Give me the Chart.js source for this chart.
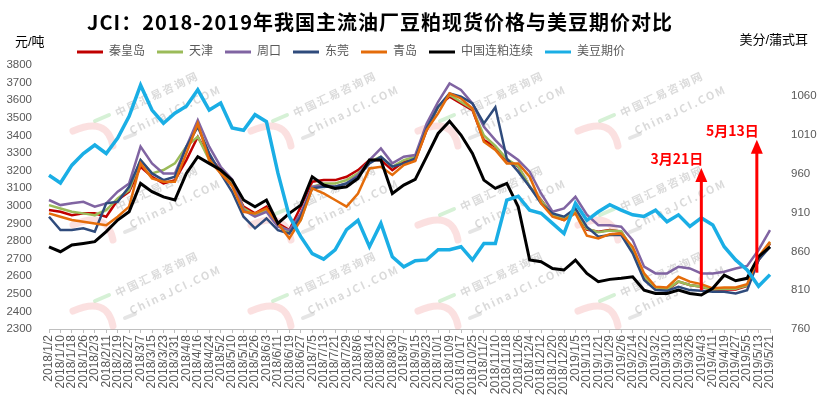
<!DOCTYPE html>
<html lang="zh">
<head>
  <meta charset="UTF-8">
  <title>豆粕现货价格与美豆期价对比</title>
  <script src="https://cdn.jsdelivr.net/npm/chart.js"></script>
  <style>
    body { margin: 0; background: #fff; }
    .chart-box { width: 820px; height: 399px; position: relative; }
  </style>
</head>
<body>
  <div class="chart-box"><canvas id="soyChart"></canvas></div>

  <script>
    // x axis categories (every 8 days)
    const dates = [
      '2018/1/2','2018/1/10','2018/1/18','2018/1/26','2018/2/3','2018/2/11','2018/2/19','2018/2/27',
      '2018/3/7','2018/3/15','2018/3/23','2018/3/31','2018/4/8','2018/4/16','2018/4/24','2018/5/2',
      '2018/5/10','2018/5/18','2018/5/26','2018/6/3','2018/6/11','2018/6/19','2018/6/27','2018/7/5',
      '2018/7/13','2018/7/21','2018/7/29','2018/8/6','2018/8/14','2018/8/22','2018/8/30','2018/9/7',
      '2018/9/15','2018/9/23','2018/10/1','2018/10/9','2018/10/17','2018/10/25','2018/11/2','2018/11/10',
      '2018/11/18','2018/11/26','2018/12/4','2018/12/12','2018/12/20','2018/12/28','2019/1/5','2019/1/13',
      '2019/1/21','2019/1/29','2019/2/6','2019/2/14','2019/2/22','2019/3/2','2019/3/10','2019/3/18',
      '2019/3/26','2019/4/3','2019/4/11','2019/4/19','2019/4/27','2019/5/5','2019/5/13','2019/5/21'
    ];

    // spot meal prices, yuan/ton
    const qinhuangdao = [2976,2966,2947,2957,2957,2938,3033,3080,3222,3165,3127,3146,3260,3392,3279,3203,
      3127,2995,2957,2995,2900,2862,2995,3137,3146,3146,3165,3203,3260,3260,3203,3250,
      3260,3430,3563,3620,3582,3544,3373,3336,3260,3222,3108,3033,2947,2919,2966,2865,
      2853,2862,2853,2749,2597,2531,2521,2569,2550,2540,2521,2525,2525,2544,2692,2786];
    const tianjin = [3004,2985,2966,2957,2947,2976,3042,3089,3260,3184,3203,3241,3336,3392,3260,3203,
      3137,2985,2947,2976,2890,2853,2919,3108,3127,3127,3146,3184,3250,3279,3222,3260,
      3279,3440,3560,3630,3590,3550,3400,3340,3265,3225,3110,3030,2950,2925,2970,2870,
      2850,2860,2855,2750,2600,2535,2525,2570,2550,2540,2525,2528,2528,2548,2700,2790];
    const zhoukou = [3033,3004,3014,3023,2995,3014,3080,3127,3336,3241,3184,3184,3336,3487,3336,3222,
      3150,2976,2938,2966,2881,2862,2957,3108,3118,3108,3127,3175,3260,3326,3241,3279,
      3288,3468,3591,3695,3658,3582,3449,3373,3307,3260,3194,3070,2966,2985,3051,2950,
      2890,2890,2881,2805,2654,2616,2616,2654,2644,2616,2616,2625,2644,2658,2749,2862];
    const dongguan = [2938,2862,2862,2872,2853,3014,3023,3108,3260,3184,3146,3165,3336,3449,3298,3184,
      3080,2938,2872,2928,2862,2843,2938,3099,3108,3108,3127,3165,3241,3279,3222,3241,
      3269,3440,3563,3639,3620,3582,3468,3560,3269,3194,3108,3014,2957,2938,2985,2880,
      2824,2834,2834,2730,2578,2521,2517,2540,2521,2517,2512,2512,2502,2521,2692,2767];
    const qingdao = [2957,2938,2919,2909,2900,2890,2938,2995,3241,3156,3137,3137,3298,3468,3260,3184,
      3113,2966,2957,2985,2900,2815,2919,3099,3070,3033,2995,3070,3212,3222,3175,3231,
      3255,3430,3525,3639,3610,3553,3364,3317,3241,3241,3165,3014,2938,2919,2957,2830,
      2815,2839,2843,2767,2616,2540,2536,2597,2569,2555,2531,2536,2536,2555,2711,2796];
    // DCE meal continuous
    const dceMeal = [2767,2739,2777,2786,2796,2853,2919,2966,3127,3080,3051,3033,3184,3279,3241,3203,
      3146,3033,2995,3033,2900,2957,3004,3165,3118,3099,3108,3156,3260,3260,3070,3118,
      3150,3279,3411,3480,3402,3298,3146,3099,3127,2995,2692,2682,2644,2635,2692,2616,
      2569,2582,2588,2597,2521,2502,2502,2521,2502,2493,2531,2606,2574,2588,2711,2767];
    // CBOT soybeans, cents/bushel (right axis)
    const cbotSoy = [958,948,971,986,997,986,1006,1034,1074,1042,1025,1038,1047,1068,1042,1051,
      1019,1016,1036,1027,961,905,879,857,850,862,888,900,866,896,853,840,
      848,849,862,862,866,849,870,870,926,931,913,909,896,883,922,900,
      911,920,913,907,905,913,898,907,892,903,894,866,849,836,815,830];

    const rightTicks = [760, 810, 860, 910, 960, 1010, 1060];

    // red arrow notes: x position (category index), from/to in yuan/ton
    const arrowIdx = [57, 61.85];
    const arrowFrom = [2520, 2620];
    const arrowTo = [3215, 3375];
    const arrowText = ['3月21日', '5月13日'];

    // faint site watermark, centre points in pixels
    const markX = [157, 335, 502, 662];
    const markY = [94, 188, 274];

    const FONT = "'Liberation Sans', 'Noto Sans CJK SC', sans-serif";
    Chart.defaults.font.family = FONT;
    Chart.defaults.color = '#595959';

    function series(label, data, color, width, axis, order) {
      return {
        label: label,
        data: data,
        borderColor: color,
        backgroundColor: color,
        borderWidth: width,
        pointRadius: 0,
        pointHoverRadius: 0,
        tension: 0,
        yAxisID: axis,
        order: order
      };
    }

    const extras = {
      id: 'extras',
      afterLayout(chart) {
        // shift legend to match original placement
        const lg = chart.legend;
        const w = lg.right - lg.left;
        lg.left = 65;
        lg.right = 65 + w;
      },
      beforeDatasetsDraw(chart) {
        const ctx = chart.ctx;
        ctx.save();
        markY.forEach(cy => markX.forEach(cx => {
          ctx.save();
          ctx.translate(cx, cy);
          ctx.rotate(-0.44);
          ctx.fillStyle = 'rgba(150,150,150,0.35)';
          ctx.font = "bold 11px 'Noto Sans CJK SC'";
          ctx.letterSpacing = '2px';
          ctx.textAlign = 'center';
          ctx.textBaseline = 'middle';
          ctx.fillText('中国汇易咨询网', 0, 0);
          ctx.fillText('ChinaJCI.COM', 10, 22);
          ctx.restore();
          // logo strokes
          ctx.lineCap = 'round';
          ctx.strokeStyle = 'rgba(120,210,120,0.3)';
          ctx.lineWidth = 4;
          ctx.beginPath(); ctx.moveTo(cx - 62, cy + 27); ctx.lineTo(cx - 48, cy + 21); ctx.stroke();
          ctx.strokeStyle = 'rgba(240,130,130,0.25)';
          ctx.lineWidth = 7;
          ctx.beginPath(); ctx.moveTo(cx - 84, cy + 37); ctx.quadraticCurveTo(cx - 50, cy + 22, cx - 44, cy + 52); ctx.stroke();
          ctx.strokeStyle = 'rgba(170,170,170,0.3)';
          ctx.lineWidth = 4;
          ctx.beginPath(); ctx.moveTo(cx - 32, cy + 44); ctx.lineTo(cx - 22, cy + 40); ctx.stroke();
        }));
        ctx.restore();
      },
      afterDatasetsDraw(chart) {
        const { ctx, scales: { x, y } } = chart;
        ctx.save();
        ctx.strokeStyle = '#ff0000';
        ctx.fillStyle = '#ff0000';
        ctx.lineWidth = 3;
        arrowIdx.forEach((idx, n) => {
          const px = x.getPixelForValue(idx);
          const yBase = y.getPixelForValue(arrowFrom[n]);
          const yTip = y.getPixelForValue(arrowTo[n]);
          ctx.beginPath();
          ctx.moveTo(px, yBase);
          ctx.lineTo(px, yTip + 10);
          ctx.stroke();
          ctx.beginPath();
          ctx.moveTo(px, yTip);
          ctx.lineTo(px - 6, yTip + 14);
          ctx.lineTo(px + 6, yTip + 14);
          ctx.closePath();
          ctx.fill();
          ctx.font = "bold 14px 'Noto Sans CJK SC'";
          ctx.textAlign = 'right';
          ctx.textBaseline = 'bottom';
          ctx.fillText(arrowText[n], px + 2, yTip - 2);
        });
        ctx.restore();
      },
      afterDraw(chart) {
        const ctx = chart.ctx;
        ctx.save();
        ctx.fillStyle = '#000';
        ctx.font = "bold 20px 'Noto Sans CJK SC'";
        ctx.letterSpacing = '1px';
        ctx.textAlign = 'center';
        ctx.textBaseline = 'middle';
        ctx.fillText('JCI：2018-2019年我国主流油厂豆粕现货价格与美豆期价对比', 380, 22);
        ctx.letterSpacing = '0px';
        ctx.font = "13px " + FONT;
        ctx.textAlign = 'left';
        ctx.fillText('元/吨', 15, 42);
        ctx.textAlign = 'right';
        ctx.fillText('美分/蒲式耳', 808, 40);
        ctx.restore();
      }
    };

    new Chart(document.getElementById('soyChart'), {
      type: 'line',
      data: {
        labels: dates,
        datasets: [
          series('秦皇岛', qinhuangdao, '#c00000', 2.5, 'y', 6),
          series('天津', tianjin, '#9bbb59', 2.5, 'y', 5),
          series('周口', zhoukou, '#8064a2', 2.5, 'y', 4),
          series('东莞', dongguan, '#2f4b7c', 2.5, 'y', 3),
          series('青岛', qingdao, '#e46c0a', 2.5, 'y', 2),
          series('中国连粕连续', dceMeal, '#000000', 3, 'y', 1),
          series('美豆期价', cbotSoy, '#1aaee5', 3.5, 'y2', 0)
        ]
      },
      options: {
        responsive: true,
        maintainAspectRatio: false,
        animation: false,
        layout: { padding: { top: 34, left: 0, right: 0, bottom: 0 } },
        plugins: {
          title: { display: false },
          tooltip: { enabled: false },
          legend: {
            position: 'top',
            align: 'start',
            maxHeight: 31,
            labels: {
              boxWidth: 26,
              boxHeight: 3,
              padding: 12,
              color: '#595959',
              font: { size: 12 },
              sort: (a, b) => a.datasetIndex - b.datasetIndex,
              generateLabels(chart) {
                return Chart.defaults.plugins.legend.labels.generateLabels(chart)
                  .map(item => Object.assign(item, { lineWidth: 0 }));
              }
            }
          }
        },
        scales: {
          x: {
            ticks: {
              autoSkip: false,
              maxRotation: 90,
              minRotation: 90,
              padding: 2,
              color: '#595959',
              font: { size: 12 }
            },
            grid: {
              display: true,
              drawOnChartArea: false,
              drawTicks: true,
              tickLength: 4,
              color: '#bfbfbf'
            },
            border: { display: true, color: '#bfbfbf', width: 1 },
            afterFit(scale) { scale.height = 70; }
          },
          y: {
            position: 'left',
            min: 2300,
            max: 3800,
            ticks: {
              stepSize: 100,
              padding: 9,
              color: '#595959',
              font: { size: 11.5 },
              callback: v => String(v)
            },
            grid: { display: false },
            border: { display: false },
            afterFit(scale) { scale.width = 49; }
          },
          y2: {
            position: 'right',
            min: 760,
            max: 1100,
            ticks: {
              padding: 13,
              color: '#595959',
              font: { size: 11.5 },
              callback: v => String(v)
            },
            afterBuildTicks(scale) { scale.ticks = rightTicks.map(v => ({ value: v })); },
            grid: { display: false },
            border: { display: false },
            afterFit(scale) { scale.width = 50; }
          }
        }
      },
      plugins: [extras]
    });
  </script>
</body>
</html>
